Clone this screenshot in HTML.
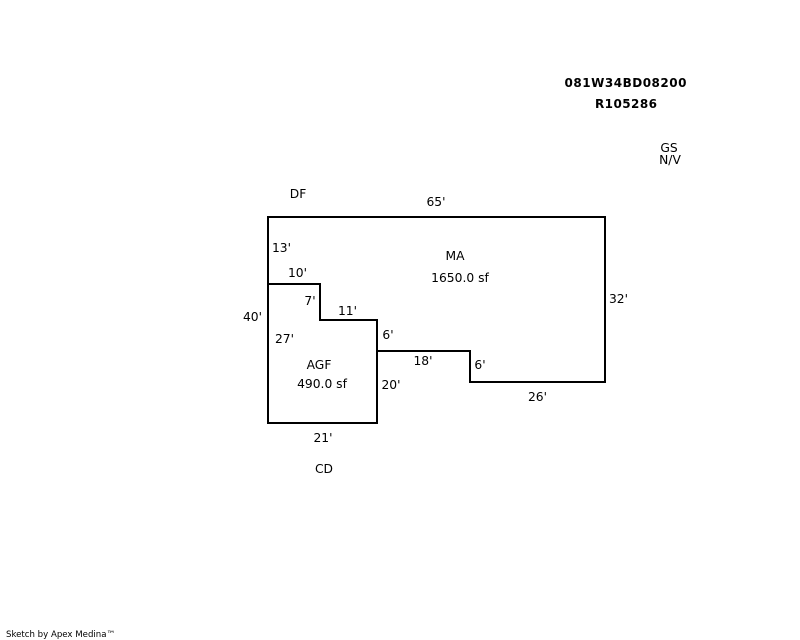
<!DOCTYPE html>
<html>
<head>
<meta charset="utf-8">
<style>
html,body{margin:0;padding:0;background:#fff;width:800px;height:640px;overflow:hidden}
svg{display:block}
text{font-family:"DejaVu Sans","Liberation Sans",sans-serif;font-size:12.3px;fill:#000;text-anchor:middle}
.b{font-weight:bold;font-size:12px;font-family:"DejaVu Sans",sans-serif}
.s{font-size:8.6px;text-anchor:start}
</style>
</head>
<body>
<svg width="800" height="640" viewBox="0 0 800 640" xmlns="http://www.w3.org/2000/svg">
<g fill="none" stroke="#000" stroke-width="2" shape-rendering="crispEdges">
<path d="M268 217H605V382H470V351H377V320H320V284H268Z"/>
<path d="M268 284V423H377V351"/>
<path d="M377 320V351"/>
</g>
<text class="b" x="625.5" y="87" textLength="122">081W34BD08200</text>
<text class="b" x="626" y="108" textLength="62">R105286</text>
<text x="669" y="152">GS</text>
<text x="670" y="164">N/V</text>
<text x="298" y="198">DF</text>
<text x="436" y="206">65'</text>
<text x="281.5" y="252">13'</text>
<text x="297.5" y="277">10'</text>
<text x="310" y="305">7'</text>
<text x="347.5" y="315">11'</text>
<text x="252.5" y="321">40'</text>
<text x="284.5" y="343">27'</text>
<text x="388" y="339">6'</text>
<text x="455" y="260">MA</text>
<text x="460" y="282">1650.0 sf</text>
<text x="618.5" y="303">32'</text>
<text x="423" y="365">18'</text>
<text x="480" y="369">6'</text>
<text x="319" y="369">AGF</text>
<text x="322" y="388">490.0 sf</text>
<text x="391" y="389">20'</text>
<text x="537.5" y="401">26'</text>
<text x="323" y="442">21'</text>
<text x="324" y="473">CD</text>
<text class="s" x="6" y="637">Sketch by Apex Medina™</text>
</svg>
</body>
</html>
